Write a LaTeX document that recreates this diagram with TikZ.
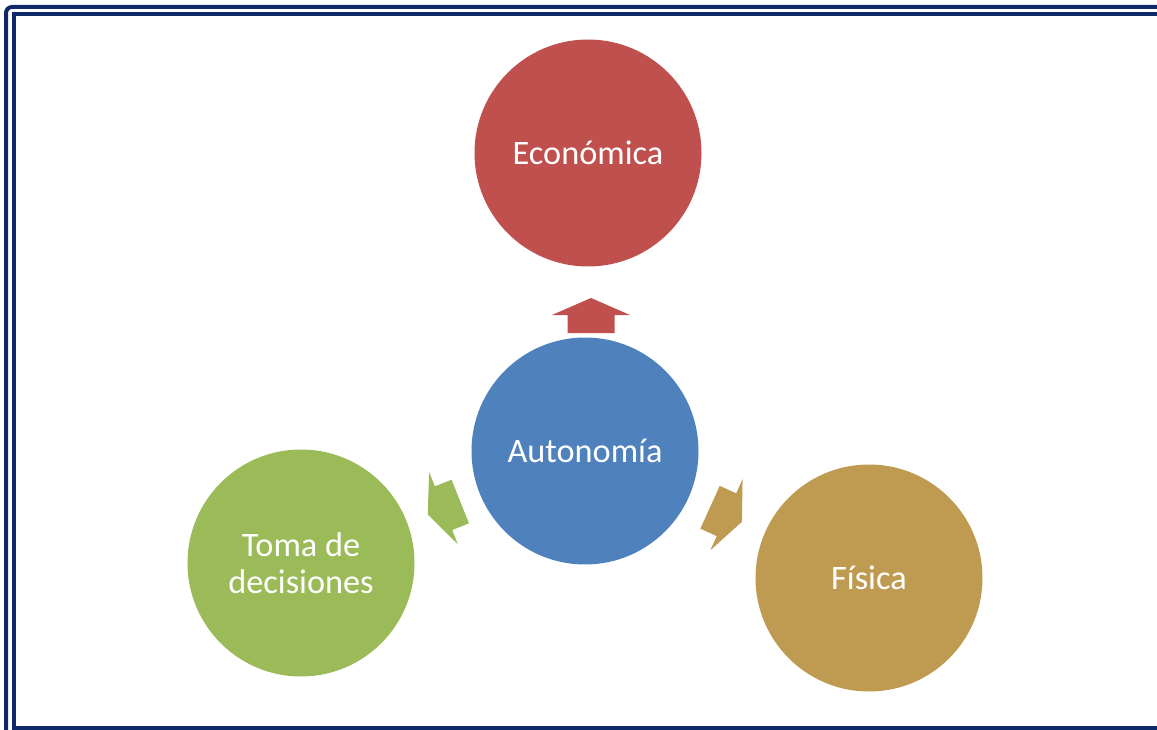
\documentclass[tikz,border=0pt]{standalone}
\usepackage{fontspec}
\setmainfont{Carlito}
\definecolor{framecol}{HTML}{0E2868}
\definecolor{redc}{HTML}{C0504D}
\definecolor{bluec}{HTML}{4F81BD}
\definecolor{greenc}{HTML}{9BBB59}
\definecolor{tanc}{HTML}{BF9B52}
\tikzset{
  bubble/.style={circle, minimum size=227pt, inner sep=0pt, text=white, font=\fontsize{34.3}{37}\selectfont, align=center},
  blockarrow/.pic={\fill[#1] (17.5,0) -- (0.5,39) -- (0.5,23.5) -- (-17.5,23.5) -- (-17.5,-23.5) -- (0.5,-23.5) -- (0.5,-39) -- cycle;},
  frameline/.style={draw=framecol, line width=4pt}
}
\begin{document}
\begin{tikzpicture}[x=1pt,y=-1pt]
\useasboundingbox (0,0) rectangle (1157,730);
\clip (0,0) rectangle (1157,730);
\fill[white] (0,0) rectangle (1157,730);
\draw[frameline, rounded corners=6pt] (6,7) rectangle (1180,760);
\draw[frameline] (14,14) rectangle (1158.5,728);
\node[bubble, fill=redc] (econ) at (588,153) {Económica};
\node[bubble, fill=bluec] (auto) at (585,451) {Autonomía};
\node[bubble, fill=greenc] (toma) at (301,563) {Toma de\\decisiones};
\node[bubble, fill=tanc] (fisica) at (869,578) {Física};
\pic[rotate=90] at (591,315.5) {blockarrow=redc};
\pic[rotate=201.7] at (444,508) {blockarrow=greenc};
\pic[rotate=-24.4] at (726,514.5) {blockarrow=tanc};
\end{tikzpicture}
\end{document}
